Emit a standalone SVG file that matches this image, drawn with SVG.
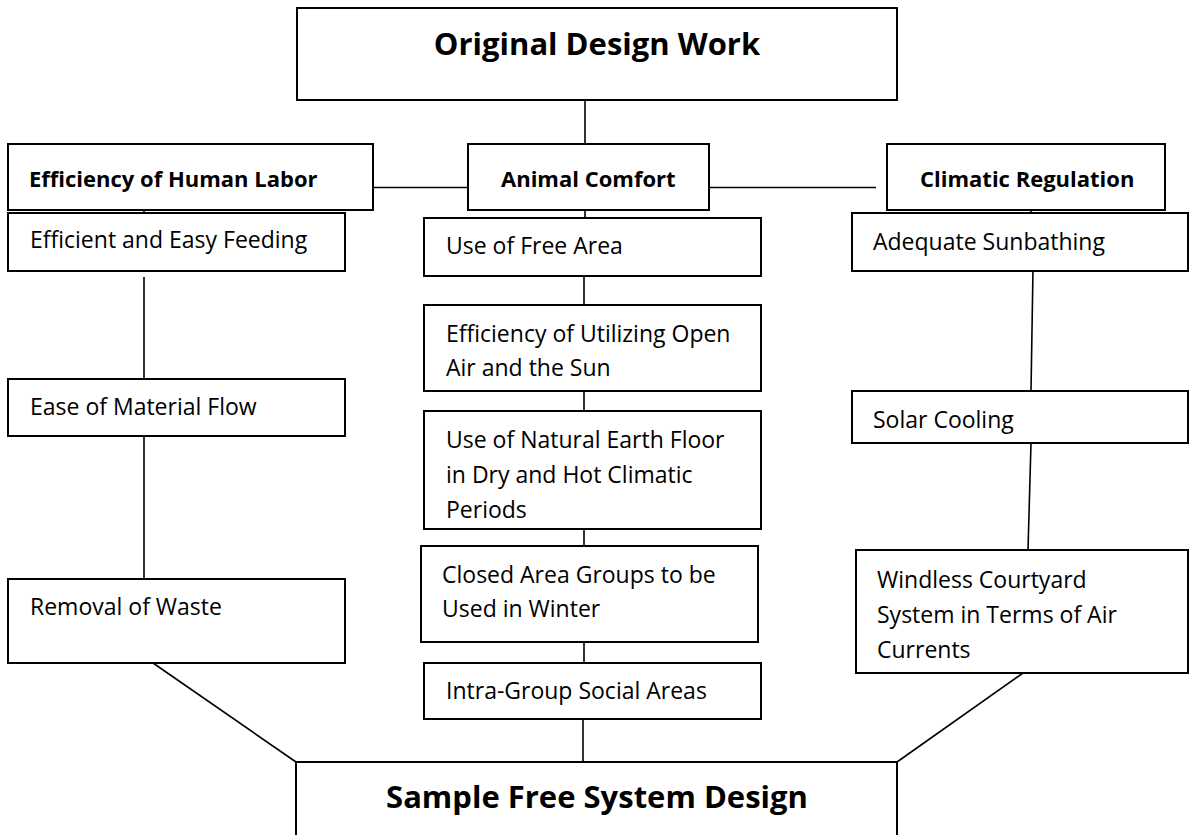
<svg xmlns="http://www.w3.org/2000/svg" width="1190" height="835" viewBox="0 0 1190 835">
<style>
.box{fill:#fff;stroke:#000;stroke-width:2}
.ln{stroke:#000;stroke-width:1.6;fill:none}
text{font-family:"Open Sans","Liberation Sans",sans-serif;fill:#000}
.t{font-size:23px}
.b{font-size:22px;font-weight:bold}
.h{font-size:31px;font-weight:bold}
</style>
<rect width="1190" height="835" fill="#fff"/>
<g id="connectors">
<line class="ln" x1="585" y1="100" x2="585" y2="144"/>
<line class="ln" x1="368" y1="187.5" x2="474" y2="187.5"/>
<line class="ln" x1="709" y1="187.5" x2="876" y2="187.5"/>
<line class="ln" x1="144" y1="210" x2="144" y2="213"/>
<line class="ln" x1="585" y1="210" x2="585" y2="218"/>
<line class="ln" x1="1031" y1="210" x2="1031" y2="213"/>
<line class="ln" x1="144" y1="277" x2="144" y2="379"/>
<line class="ln" x1="144" y1="436" x2="144" y2="579"/>
<line class="ln" x1="153" y1="663" x2="296" y2="762"/>
<line class="ln" x1="584" y1="276" x2="584" y2="305"/>
<line class="ln" x1="584" y1="391" x2="584" y2="417"/>
<line class="ln" x1="584" y1="523" x2="584" y2="549"/>
<line class="ln" x1="584" y1="631" x2="584" y2="663"/>
<line class="ln" x1="583" y1="719" x2="583" y2="762"/>
<line class="ln" x1="1033" y1="269" x2="1031" y2="391"/>
<line class="ln" x1="1031" y1="443" x2="1028" y2="550"/>
<line class="ln" x1="1023" y1="673" x2="897" y2="762"/>
</g>
<g id="n-original"><rect class="box" x="297" y="8" width="600" height="92"/><text class="h" x="597" y="55" text-anchor="middle">Original Design Work</text></g>
<g id="n-human"><rect class="box" x="8" y="144" width="365" height="66"/><text class="b" x="29" y="187">Efficiency of Human Labor</text></g>
<g id="n-animal"><rect class="box" x="468" y="144" width="241" height="66"/><text class="b" x="501" y="187">Animal Comfort</text></g>
<g id="n-climatic"><rect class="box" x="887" y="144" width="278" height="66"/><text class="b" x="920" y="187">Climatic Regulation</text></g>
<g id="n-feeding"><rect class="box" x="8" y="213" width="337" height="58"/><text class="t" x="30" y="248">Efficient and Easy Feeding</text></g>
<g id="n-material"><rect class="box" x="8" y="379" width="337" height="57"/><text class="t" x="30" y="415">Ease of Material Flow</text></g>
<g id="n-waste"><rect class="box" x="8" y="579" width="337" height="84"/><text class="t" x="30" y="615">Removal of Waste</text></g>
<g id="n-free"><rect class="box" x="424" y="218" width="337" height="58"/><text class="t" x="446" y="254">Use of Free Area</text></g>
<g id="n-openair"><rect class="box" x="424" y="305" width="337" height="86"/><text class="t" x="446" y="342">Efficiency of Utilizing Open</text><text class="t" x="446" y="376">Air and the Sun</text></g>
<g id="n-earth"><rect class="box" x="424" y="411" width="337" height="118"/><text class="t" x="446" y="448">Use of Natural Earth Floor</text><text class="t" x="446" y="483">in Dry and Hot Climatic</text><text class="t" x="446" y="518">Periods</text></g>
<g id="n-closed"><rect class="box" x="421" y="546" width="337" height="96"/><text class="t" x="442" y="583">Closed Area Groups to be</text><text class="t" x="442" y="617">Used in Winter</text></g>
<g id="n-intra"><rect class="box" x="424" y="663" width="337" height="56"/><text class="t" x="446" y="699">Intra-Group Social Areas</text></g>
<g id="n-sun"><rect class="box" x="852" y="213" width="336" height="58"/><text class="t" x="873" y="250">Adequate Sunbathing</text></g>
<g id="n-cooling"><rect class="box" x="852" y="391" width="336" height="52"/><text class="t" x="873" y="428">Solar Cooling</text></g>
<g id="n-windless"><rect class="box" x="856" y="550" width="332" height="123"/><text class="t" x="877" y="588">Windless Courtyard</text><text class="t" x="877" y="623">System in Terms of Air</text><text class="t" x="877" y="658">Currents</text></g>
<g id="n-sample"><rect class="box" x="296" y="762" width="601" height="100"/><text class="h" x="597" y="808" text-anchor="middle">Sample Free System Design</text></g>
</svg>
